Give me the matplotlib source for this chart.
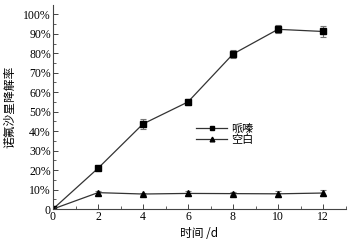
import matplotlib
matplotlib.use("Agg")
import matplotlib.pyplot as plt
from matplotlib.ticker import MultipleLocator, FuncFormatter

plt.rcParams['font.family'] = ['Liberation Serif', 'Noto Sans CJK SC']

days = [0, 2, 4, 6, 8, 10, 12]
piperazine = [0, 20.9, 43.7, 55.0, 79.6, 92.3, 91.2]
piperazine_err = [0.5, 1.0, 2.5, 1.5, 2.0, 2.0, 3.0]
blank = [0, 8.4, 7.7, 8.0, 7.9, 7.8, 8.2]
blank_err = [0.3, 1.0, 0.6, 1.5, 0.8, 1.5, 1.5]
series_names = ['哌嗪', '空白']
xticks = [0, 2, 4, 6, 8, 10, 12]
yticks = [0, 10, 20, 30, 40, 50, 60, 70, 80, 90, 100]

fig = plt.figure(figsize=(3.52, 2.43), dpi=100)
ax = fig.add_axes([53/352, 34/243, 292.5/352, 204/243])

ax.errorbar(days, piperazine, yerr=piperazine_err, color='#333333', lw=0.9,
            marker='s', ms=4, mfc='black', mec='black', ecolor='#777777',
            elinewidth=0.8, capsize=2, capthick=0.8, label=series_names[0])
ax.errorbar(days, blank, yerr=blank_err, color='#333333', lw=0.9,
            marker='^', ms=4.5, mfc='black', mec='black', ecolor='#777777',
            elinewidth=0.8, capsize=2, capthick=0.8, label=series_names[1])

ax.set_xlim(0, 13)
ax.set_ylim(0, 104.8)
ax.set_xticks(xticks)
ax.xaxis.set_minor_locator(MultipleLocator(1))
ax.set_yticks(yticks)
ax.yaxis.set_minor_locator(MultipleLocator(5))
ax.yaxis.set_major_formatter(FuncFormatter(lambda v, p: '0' if v == 0 else f'{int(v)}%'))

for s in ['top', 'right']:
    ax.spines[s].set_visible(False)
for s in ['left', 'bottom']:
    ax.spines[s].set_color('#444444')
    ax.spines[s].set_linewidth(0.8)

ax.tick_params(which='major', direction='in', length=3.5, width=0.7, color='#444444',
               labelsize=8.5, pad=1.5)
ax.tick_params(which='minor', direction='in', length=2, width=0.6, color='#444444')

ax.set_xlabel('时间 /d', fontsize=8.5, family=['Noto Sans CJK SC', 'Liberation Serif'], labelpad=3)
ax.set_ylabel('诺氟沙星降解率', fontsize=8.5, family=['Noto Sans CJK SC'], labelpad=5)

handles, labels = ax.get_legend_handles_labels()
handles = [h[0] for h in handles]
leg = ax.legend(handles, labels, loc='upper left', bbox_to_anchor=(0.475, 0.44), frameon=False,
                prop={'family': ['Noto Sans CJK SC'], 'size': 8},
                handlelength=2.8, handletextpad=0.3, labelspacing=0.0, borderaxespad=0,
                markerscale=0.75)

fig.savefig('out.png', dpi=100)
